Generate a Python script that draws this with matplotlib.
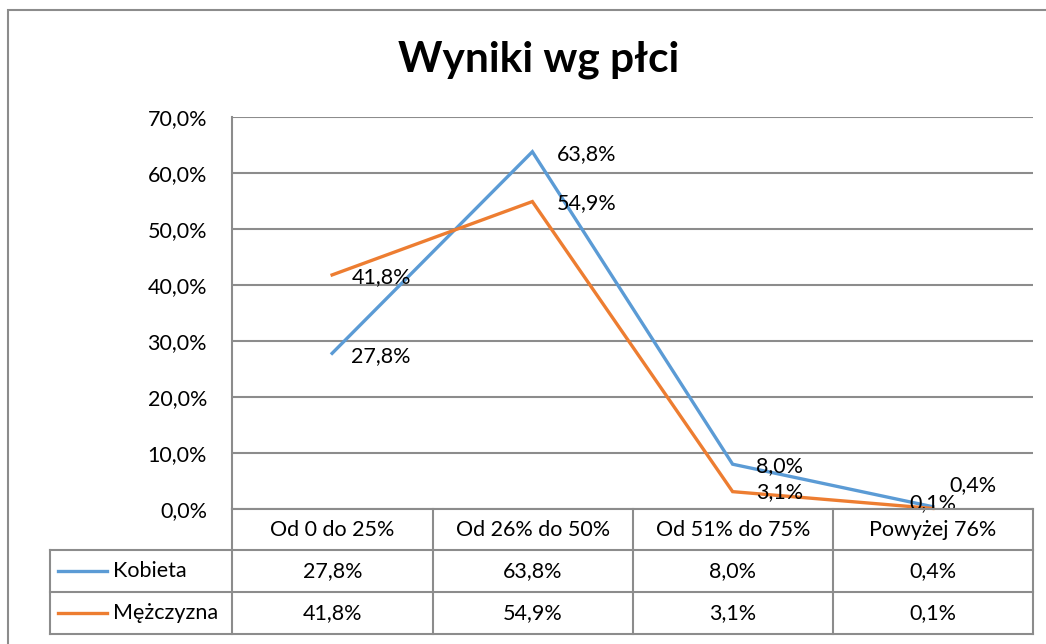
import matplotlib
matplotlib.use("Agg")
import matplotlib.pyplot as plt
from matplotlib.patches import Rectangle
from matplotlib.lines import Line2D

plt.rcParams['font.family'] = ['Lato', 'DejaVu Sans']

categories = ["Od 0 do 25%", "Od 26% do 50%", "Od 51% do 75%", "Powyżej 76%"]
kobieta = [27.8, 63.8, 8.0, 0.4]
mezczyzna = [41.8, 54.9, 3.1, 0.1]
series_names = ["Kobieta", "Mężczyzna"]
colors = ["#5B9BD5", "#ED7D31"]

W, H = 1046, 644
fig = plt.figure(figsize=(W / 100, H / 100), dpi=100)
FS = 15.5


def fx(x):
    return x / W


def fy(y):
    return 1 - y / H


def pct(v):
    return ("%.1f%%" % v).replace(".", ",")


grey = "#8c8c8c"

# outer chart border
fig.patches.append(Rectangle((fx(8), fy(660)), fx(1060) - fx(8), fy(10) - fy(660),
                             transform=fig.transFigure, fill=False, edgecolor=grey, lw=1.5))

left, right, top, bottom = 232, 1033, 117, 509
ax = fig.add_axes([fx(left), fy(bottom), fx(right) - fx(left), fy(top) - fy(bottom)])
ax.set_xlim(-0.5, 3.5)
ax.set_ylim(0, 70)
ax.set_yticks(range(0, 71, 10))
ax.set_yticklabels([pct(v) for v in range(0, 71, 10)], fontsize=FS)
ax.set_xticks([])
ax.tick_params(axis='y', length=0, pad=18)
ax.grid(axis='y', color=grey, lw=1.5)
ax.set_axisbelow(True)
for s in ["top", "right", "bottom"]:
    ax.spines[s].set_visible(False)
ax.spines["left"].set_color(grey)
ax.spines["left"].set_linewidth(1.5)

x = range(len(categories))
ax.plot(x, kobieta, color=colors[0], lw=2.4, solid_joinstyle='miter', clip_on=False)
ax.plot(x, mezczyzna, color=colors[1], lw=2.4, solid_joinstyle='miter', clip_on=False)

# label offsets in pixels, like excel "right" placement
k_offsets = [(19, -3), (24, -2), (23, -2), (17, 22)]
m_offsets = [(20, -2), (24, -2), (23, 0), (-24, 5)]
for vals, offs in [(kobieta, k_offsets), (mezczyzna, m_offsets)]:
    for i, v in enumerate(vals):
        ax.annotate(pct(v), (i, v), xytext=offs[i], textcoords='offset pixels',
                    ha='left', va='center', fontsize=FS, annotation_clip=False)

fig.text(fx(539), fy(60), "Wyniki wg płci", ha='center', va='center',
         fontsize=30.5, fontweight='bold')

# data table
col_x = [232, 433, 633, 833, 1033]
rows_y = [509, 550, 592, 634]


def hline(x0, x1, y):
    fig.lines.append(Line2D([fx(x0), fx(x1)], [fy(y), fy(y)], transform=fig.transFigure,
                            color=grey, lw=1.5))


def vline(x, y0, y1):
    fig.lines.append(Line2D([fx(x), fx(x)], [fy(y0), fy(y1)], transform=fig.transFigure,
                            color=grey, lw=1.5))


hline(232, 1033, 509)
for y in rows_y[1:]:
    hline(50, 1033, y)
for cx in col_x:
    vline(cx, 509, 634)
vline(50, 550, 634)

for i, c in enumerate(categories):
    cx = (col_x[i] + col_x[i + 1]) / 2
    fig.text(fx(cx), fy((rows_y[0] + rows_y[1]) / 2), c, ha='center', va='center', fontsize=FS)

for r, (name, vals) in enumerate([(series_names[0], kobieta), (series_names[1], mezczyzna)]):
    yc = (rows_y[r + 1] + rows_y[r + 2]) / 2
    fig.lines.append(Line2D([fx(58), fx(107)], [fy(yc), fy(yc)], transform=fig.transFigure,
                            color=colors[r], lw=2.4))
    fig.text(fx(113), fy(yc), name, ha='left', va='center', fontsize=FS)
    for i, v in enumerate(vals):
        cx = (col_x[i] + col_x[i + 1]) / 2
        fig.text(fx(cx), fy(yc), pct(v), ha='center', va='center', fontsize=FS)

fig.savefig("out.png", dpi=100)
